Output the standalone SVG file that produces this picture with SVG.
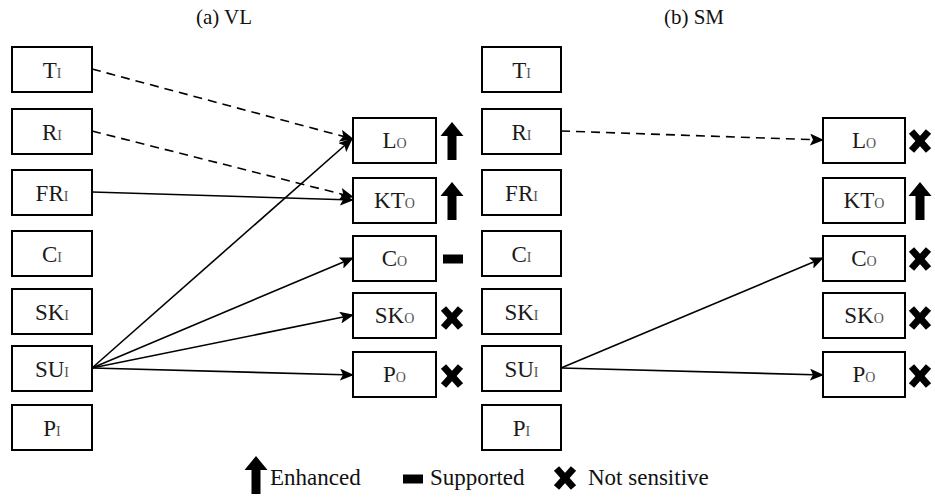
<svg xmlns="http://www.w3.org/2000/svg" xmlns:xlink="http://www.w3.org/1999/xlink" width="935" height="500" viewBox="0 0 935 500">
<style>
.box{fill:#fff;stroke:#000;stroke-width:2}
.lbl{font-family:"Liberation Serif","Times New Roman",serif;font-size:23px;fill:#1a1a1a;text-anchor:middle}
.sub{font-size:14px;fill:#555}
.ttl{font-family:"Liberation Serif","Times New Roman",serif;font-size:21px;fill:#111;text-anchor:middle}
.leg{font-family:"Liberation Serif","Times New Roman",serif;font-size:23px;fill:#111}
.ln{stroke:#000;stroke-width:1.6;fill:none;marker-end:url(#ah)}
.dash{stroke-dasharray:9 6}
.xm{stroke:#000;stroke-width:7}
</style>
<defs>
<marker id="ah" markerUnits="userSpaceOnUse" markerWidth="14" markerHeight="12" refX="13" refY="6" orient="auto">
<path d="M0,0 L14,6 L0,12 L3,6 Z" fill="#000"/>
</marker>
<path id="up" d="M0,-19 L11.5,-5 L4.5,-5 L4.5,19 L-4.5,19 L-4.5,-5 L-11.5,-5 Z" fill="#000"/>
<g id="xx"><line class="xm" x1="-8.5" y1="-9.5" x2="8.5" y2="9.5"/><line class="xm" x1="8.5" y1="-9.5" x2="-8.5" y2="9.5"/></g>
<rect id="mn" x="-10" y="-4.5" width="20" height="9" fill="#000"/>
</defs>

<text class="ttl" x="224" y="24">(a) VL</text>
<text class="ttl" x="694" y="24">(b) SM</text>

<g id="connectors">
<line class="ln dash" x1="92" y1="69" x2="353" y2="139"/>
<line class="ln dash" x1="92" y1="131" x2="353" y2="197"/>
<line class="ln" x1="92" y1="192" x2="353" y2="200"/>
<line class="ln" x1="92" y1="368" x2="352" y2="139"/>
<line class="ln" x1="92" y1="368" x2="353" y2="258"/>
<line class="ln" x1="92" y1="368" x2="353" y2="315"/>
<line class="ln" x1="92" y1="368" x2="353" y2="375"/>
<line class="ln dash" x1="561" y1="131" x2="823" y2="140"/>
<line class="ln" x1="561" y1="368" x2="823" y2="258"/>
<line class="ln" x1="561" y1="368" x2="823" y2="375"/>
</g>

<!-- panel a inputs -->
<g id="a_TI"><rect class="box" x="12" y="47" width="80" height="45"/><text class="lbl" x="52" y="78">T<tspan class="sub">I</tspan></text></g>
<g id="a_RI"><rect class="box" x="12" y="109" width="80" height="45"/><text class="lbl" x="52" y="140">R<tspan class="sub">I</tspan></text></g>
<g id="a_FRI"><rect class="box" x="12" y="170" width="80" height="45"/><text class="lbl" x="52" y="201">FR<tspan class="sub">I</tspan></text></g>
<g id="a_CI"><rect class="box" x="12" y="231" width="80" height="45"/><text class="lbl" x="52" y="262">C<tspan class="sub">I</tspan></text></g>
<g id="a_SKI"><rect class="box" x="12" y="289" width="80" height="45"/><text class="lbl" x="52" y="320">SK<tspan class="sub">I</tspan></text></g>
<g id="a_SUI"><rect class="box" x="12" y="346" width="80" height="45"/><text class="lbl" x="52" y="377">SU<tspan class="sub">I</tspan></text></g>
<g id="a_PI"><rect class="box" x="12" y="405" width="80" height="45"/><text class="lbl" x="52" y="436">P<tspan class="sub">I</tspan></text></g>

<!-- panel a outputs -->
<g id="a_LO"><rect class="box" x="353" y="118" width="83" height="45"/><text class="lbl" x="394.5" y="148">L<tspan class="sub">O</tspan></text><use xlink:href="#up" x="452" y="141"/></g>
<g id="a_KTO"><rect class="box" x="353" y="178" width="83" height="45"/><text class="lbl" x="394.5" y="208">KT<tspan class="sub">O</tspan></text><use xlink:href="#up" x="452" y="201"/></g>
<g id="a_CO"><rect class="box" x="353" y="236" width="83" height="45"/><text class="lbl" x="394.5" y="266">C<tspan class="sub">O</tspan></text><use xlink:href="#mn" x="453" y="259"/></g>
<g id="a_SKO"><rect class="box" x="353" y="293" width="83" height="45"/><text class="lbl" x="394.5" y="323">SK<tspan class="sub">O</tspan></text><use xlink:href="#xx" x="452" y="318"/></g>
<g id="a_PO"><rect class="box" x="353" y="352" width="83" height="45"/><text class="lbl" x="394.5" y="382">P<tspan class="sub">O</tspan></text><use xlink:href="#xx" x="452" y="376"/></g>

<!-- panel b inputs -->
<g id="b_TI"><rect class="box" x="482" y="47" width="79" height="45"/><text class="lbl" x="521.5" y="78">T<tspan class="sub">I</tspan></text></g>
<g id="b_RI"><rect class="box" x="482" y="109" width="79" height="45"/><text class="lbl" x="521.5" y="140">R<tspan class="sub">I</tspan></text></g>
<g id="b_FRI"><rect class="box" x="482" y="170" width="79" height="45"/><text class="lbl" x="521.5" y="201">FR<tspan class="sub">I</tspan></text></g>
<g id="b_CI"><rect class="box" x="482" y="231" width="79" height="45"/><text class="lbl" x="521.5" y="262">C<tspan class="sub">I</tspan></text></g>
<g id="b_SKI"><rect class="box" x="482" y="289" width="79" height="45"/><text class="lbl" x="521.5" y="320">SK<tspan class="sub">I</tspan></text></g>
<g id="b_SUI"><rect class="box" x="482" y="346" width="79" height="45"/><text class="lbl" x="521.5" y="377">SU<tspan class="sub">I</tspan></text></g>
<g id="b_PI"><rect class="box" x="482" y="405" width="79" height="45"/><text class="lbl" x="521.5" y="436">P<tspan class="sub">I</tspan></text></g>

<!-- panel b outputs -->
<g id="b_LO"><rect class="box" x="823" y="118" width="82" height="45"/><text class="lbl" x="864" y="148">L<tspan class="sub">O</tspan></text><use xlink:href="#xx" x="920" y="141"/></g>
<g id="b_KTO"><rect class="box" x="823" y="178" width="82" height="45"/><text class="lbl" x="864" y="208">KT<tspan class="sub">O</tspan></text><use xlink:href="#up" x="920" y="201"/></g>
<g id="b_CO"><rect class="box" x="823" y="236" width="82" height="45"/><text class="lbl" x="864" y="266">C<tspan class="sub">O</tspan></text><use xlink:href="#xx" x="920" y="259"/></g>
<g id="b_SKO"><rect class="box" x="823" y="293" width="82" height="45"/><text class="lbl" x="864" y="323">SK<tspan class="sub">O</tspan></text><use xlink:href="#xx" x="920" y="318"/></g>
<g id="b_PO"><rect class="box" x="823" y="352" width="82" height="45"/><text class="lbl" x="864" y="382">P<tspan class="sub">O</tspan></text><use xlink:href="#xx" x="920" y="376"/></g>

<!-- legend -->
<g id="legend">
<use xlink:href="#up" x="256" y="475"/>
<text class="leg" x="270" y="485">Enhanced</text>
<use xlink:href="#mn" x="413" y="479"/>
<text class="leg" x="430" y="485">Supported</text>
<use xlink:href="#xx" x="565" y="478"/>
<text class="leg" x="588" y="485">Not sensitive</text>
</g>
</svg>
